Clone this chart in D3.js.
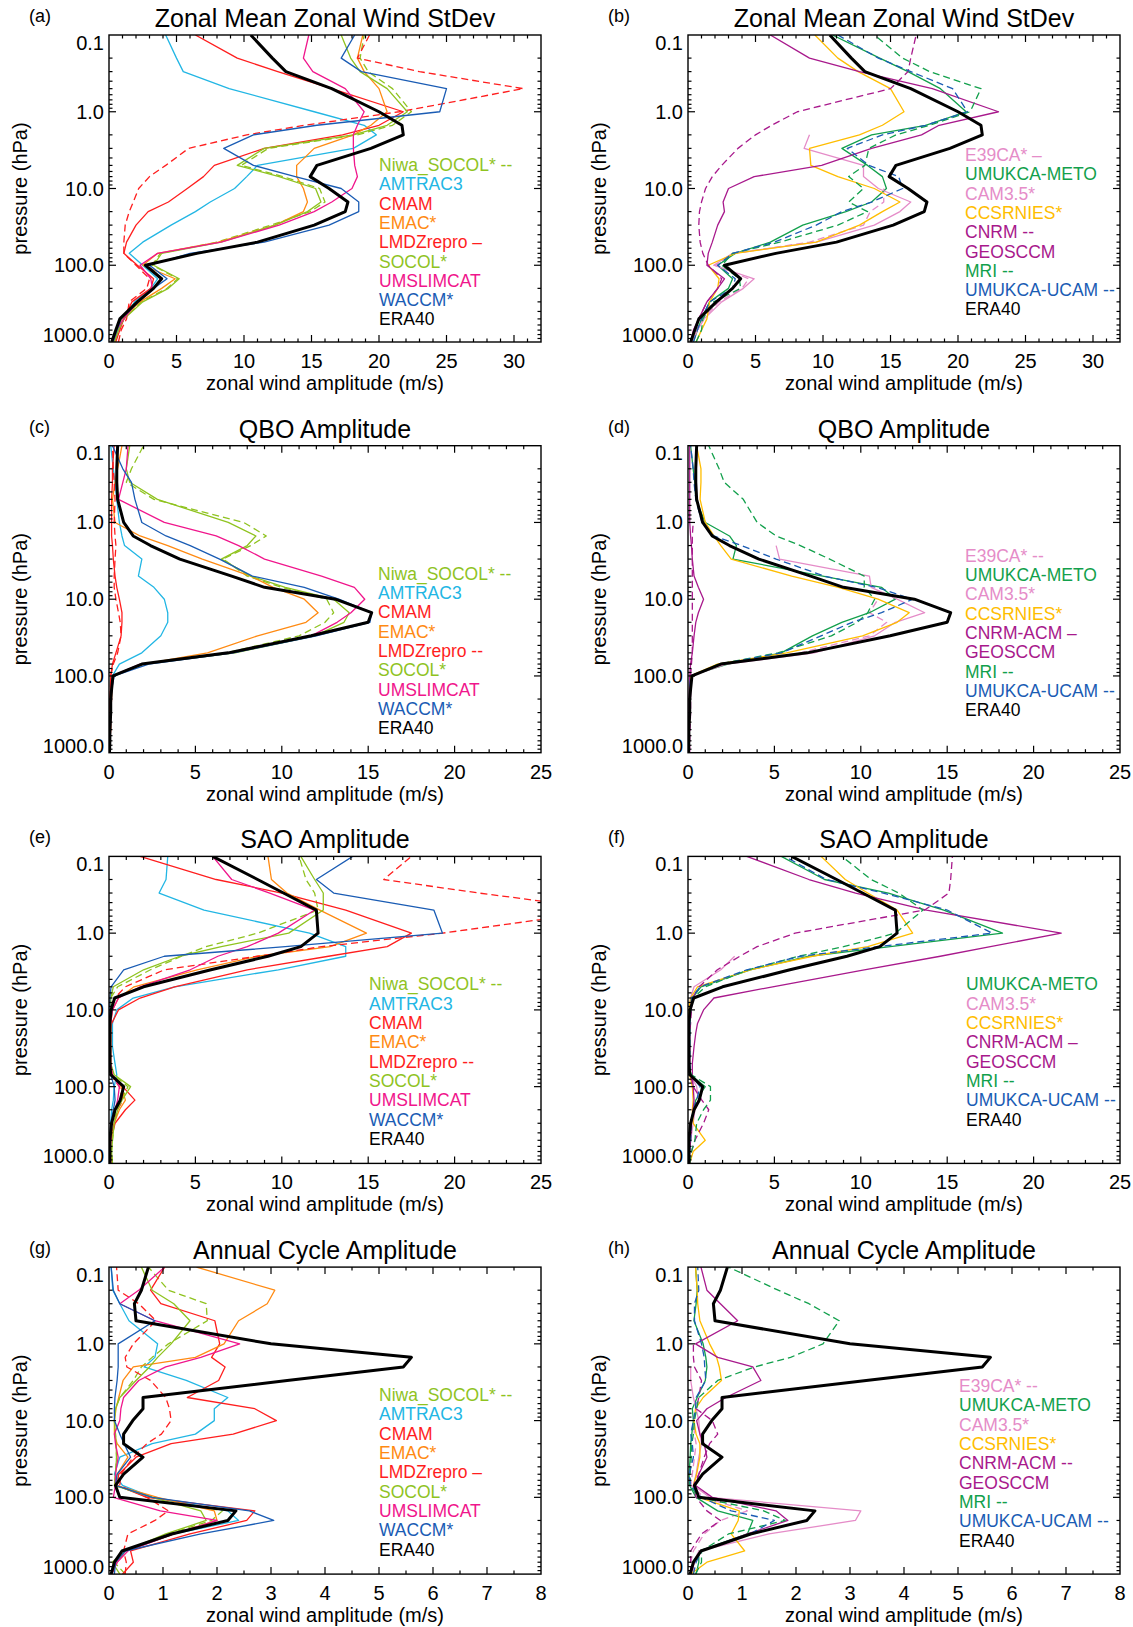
<!DOCTYPE html>
<html>
<head>
<meta charset="utf-8">
<script src="https://cdn.jsdelivr.net/npm/d3@7"></script>
<style>
  body { margin: 0; background: #fff; }
  svg { font-family: "Liberation Sans", Arial, Helvetica, sans-serif; }
</style>
</head>
<body>
<svg id="chart" width="1133" height="1627"></svg>
<script>
// pressure levels (hPa), bottom to top
var levels = [1000, 700, 500, 300, 200, 150, 100, 70, 50, 30, 20, 15, 10, 7, 5, 3, 2, 1.5, 1, 0.5, 0.3, 0.2, 0.1];

// zonal mean zonal wind standard deviation (m/s)
var sd_ERA40     = [0.2,0.5,0.8,2.1,3.3,3.9,2.7,6.5,11,15.2,17.5,17.7,16.3,14.9,15.4,19.4,21.8,21.7,20,16.5,13.1,12.1,10.5];
var sd_Niwa      = [0.4,0.7,1.1,2.4,4.3,5.1,3.2,3.8,8.0,12.0,14.9,16.0,15.6,12.9,9.8,11.8,18.4,21.0,22.4,21.0,19.2,18.6,18.9];
var sd_AMTRAC3   = [0.4,0.7,1.1,1.9,3.1,3.6,2.5,1.5,2.5,4.6,6.4,7.5,9.3,10.2,11,18.1,19.8,18.9,15.2,8.9,5.5,5.0,4.2];
var sd_CMAM      = [0.5,0.8,1.1,1.7,3.1,3.3,2.1,1.1,1.3,2.0,2.9,4.4,5.8,7.0,7.8,11.5,17.3,20,21.8,16.5,12.5,9.5,6.4];
var sd_EMAC      = [0.4,0.6,0.95,2.3,3.9,4.9,2.5,3.6,8.1,12.3,14.4,14.7,14.4,13.9,13.9,15.2,18.1,19.4,20.6,20,18.9,18.4,18.8];
var sd_LMDZ      = [0.7,0.9,1.3,1.5,2.8,3.0,2.0,1.1,1.1,1.2,1.5,1.8,2.2,3.0,4.2,5.9,10.2,14.5,21.5,30.7,23,18.4,19.3];
var sd_SOCOL     = [0.4,0.7,1.1,2.5,4.4,5.2,3.3,3.9,8.3,12.3,14.7,15.7,15.3,12.6,9.5,11.5,18.1,20.6,22.1,20.6,18.6,17.9,17.2];
var sd_UMSLIMCAT = [0.3,0.55,1.1,2.1,3.2,3.1,2.3,3.6,8.3,12.6,15.2,16.5,18,18.4,18.2,18.1,18.1,18.4,18.9,17.5,15.1,14.4,14.8];
var sd_WACCM     = [0.3,0.6,0.9,2.2,3.3,4.3,3.0,6.0,11.5,16.3,18.5,18.5,17.2,13.8,10.7,8.5,10.7,15.4,24.5,25,18.7,17.2,18.2];
var sd_E39CA     = [0.3,0.6,1.1,2.3,4.0,4.5,2.0,3.5,9.0,13.0,13.5,14.5,14.5,null,null,null,null,null,null,null,null,null,null];
var sd_METO      = [0.4,0.7,1.0,1.6,3.0,3.3,2.2,3.5,6.1,8.5,11.7,13.6,14.7,14.4,13.3,11.4,13.6,17.6,20.6,18.7,16.3,14.2,10.7];
var sd_CAM35     = [0.3,0.7,1.2,2.5,4.1,4.9,1.9,3.3,9.5,13.8,15.7,16.5,14.1,13.0,13.0,8.6,9.0,null,null,null,null,null,null];
var sd_CCSRNIES  = [0.6,1.0,1.4,1.6,2.2,2.3,1.5,3.5,9.5,12.7,14.4,15.7,13.8,11.1,9.1,9.0,12.7,14.4,16,15,12.6,11.1,9.4];
var sd_CNRM      = [0.2,0.45,0.8,1.4,2.2,2.5,1.5,1.1,0.9,0.8,0.85,1.0,1.3,1.8,2.5,3.7,5.0,6.2,8.1,15,16.3,16.5,16.9];
var sd_GEOSCCM   = [0.2,0.4,0.8,1.4,2.2,2.7,1.4,1.5,1.8,2.2,2.7,2.6,3.0,4.9,9.9,13.6,17.3,18.6,23,18.1,12.7,9.0,6.1];
var sd_MRI       = [0.6,1.0,1.1,1.9,3.9,3.8,2.5,3.3,6.8,11.1,13.3,11.9,13.0,11.9,13.1,13.4,15.4,17.9,20.9,21.7,17.9,15.9,13.8];
var sd_UCAM      = [0.4,0.7,1.0,1.6,3.3,3.5,2.2,3.3,6.4,9.5,11.4,13.6,15.9,15.6,13.4,11.8,14.4,17.6,20.7,19.6,16.5,14.1,11.1];

// QBO amplitude (m/s)
var qbo_ERA40     = [0.03,0.05,0.05,0.1,0.1,0.15,0.23,1.9,6.9,11.7,15.0,15.2,13.1,9.0,7.1,4.1,2.4,1.4,0.85,0.5,0.45,0.45,0.5];
var qbo_Niwa      = [0.05,0.05,0.1,0.1,0.15,0.15,0.2,1.9,6.8,11.0,12.5,13.0,12.6,10.0,8.0,6.6,8.2,9.1,7.8,2.6,1.0,1.3,2.0];
var qbo_AMTRAC3   = [0.05,0.05,0.08,0.1,0.12,0.15,0.2,0.6,1.9,3.0,3.4,3.4,3.2,2.6,1.7,1.9,0.9,0.75,0.6,0.45,0.35,0.25,0.1];
var qbo_CMAM      = [0.05,0.05,0.05,0.05,0.06,0.08,0.1,0.2,0.4,0.7,0.75,0.75,0.6,0.45,0.35,0.25,0.2,0.15,0.15,0.15,0.2,0.2,0.3];
var qbo_EMAC      = [0.05,0.05,0.08,0.1,0.12,0.15,0.2,2.0,5.7,8.6,11.4,12.1,11.3,9.5,8.2,5.4,3.4,1.8,0.35,0.2,0.35,0.5,0.75];
var qbo_LMDZ      = [0.05,0.05,0.05,0.05,0.06,0.08,0.1,0.25,0.5,0.7,0.65,0.55,0.4,0.3,0.3,0.35,0.4,0.35,0.3,0.35,0.3,0.25,0.2];
var qbo_SOCOL     = [0.05,0.05,0.1,0.1,0.15,0.15,0.2,2.0,7.3,11.9,13.6,13.9,13.0,10.2,8.2,6.5,8.0,8.5,6.9,2.8,1.2,1.0,1.2];
var qbo_UMSLIMCAT = [0.05,0.05,0.1,0.1,0.15,0.15,0.2,1.8,7.1,11.7,13.2,14.0,14.8,14.2,12.3,9.0,7.5,6.2,3.2,0.55,0.8,1.0,1.1];
var qbo_WACCM     = [0.05,0.05,0.08,0.1,0.12,0.15,0.3,2.3,7.2,12.0,15.1,15.2,13.3,11.3,8.3,6.4,4.7,3.3,1.9,1.5,1.3,0.8,0.2];
var qbo_E39CA     = [0.05,0.05,0.08,0.1,0.1,0.12,0.2,2.0,6.5,10.5,11.5,10.5,11.0,null,null,null,null,null,null,null,null,null,null];
var qbo_METO      = [0.03,0.05,0.05,0.08,0.1,0.1,0.1,2.3,5.4,7.2,8.9,10.5,12.0,11.2,7.8,2.6,2.8,2.4,1.0,0.45,0.4,0.3,0.15];
var qbo_CAM35     = [0.05,0.05,0.08,0.1,0.1,0.12,0.2,2.2,7.3,10.8,12.0,13.7,12.1,10.6,10.5,5.3,5.1,null,null,null,null,null,null];
var qbo_CCSRNIES  = [0.05,0.05,0.08,0.1,0.1,0.12,0.15,1.7,5.7,10.1,12.1,12.8,11.0,8.7,6.0,2.5,1.9,1.5,1.0,0.7,0.75,0.75,0.5];
var qbo_CNRM      = [0.1,0.1,0.12,0.15,0.15,0.15,0.15,0.2,0.25,0.25,0.25,0.25,0.25,0.25,0.25,0.25,0.25,0.25,0.3,null,null,null,null];
var qbo_GEOSCCM   = [0.03,0.05,0.05,0.05,0.06,0.08,0.1,0.15,0.25,0.35,0.45,0.6,0.9,0.6,0.35,0.25,0.2,0.15,0.1,0.1,0.1,0.1,0.1];
var qbo_MRI       = [0.05,0.05,0.08,0.1,0.1,0.12,0.2,1.8,5.2,8.3,9.8,10.4,10.8,10.2,10.2,8.2,6.5,5.1,4.0,3.2,2.1,1.8,1.2];
var qbo_UCAM      = [0.03,0.05,0.05,0.08,0.1,0.1,0.15,1.9,5.4,7.7,9.5,11.2,13.0,10.9,7.9,5.1,3.1,1.5,0.8,0.45,0.35,0.3,0.15];

// SAO amplitude (m/s)
var sao_ERA40     = [0.05,0.05,0.05,0.15,0.35,0.65,0.85,0.1,0.05,0.05,0.05,0.05,0.12,0.33,2.0,5.9,9.2,11.1,12.1,12.0,10.1,8.6,6.0];
var sao_Niwa      = [0.2,0.15,0.2,0.3,0.45,0.7,1.1,0.25,0.1,0.1,0.1,0.1,0.1,0.1,0.5,2.4,4.2,5.6,8.6,12.1,11.9,11.4,11.0];
var sao_AMTRAC3   = [0.05,0.05,0.1,0.1,0.15,0.25,0.3,0.45,0.35,0.2,0.2,0.2,0.45,1.4,3.8,9.8,13.7,13.7,11.6,5.5,2.9,3.3,3.4];
var sao_CMAM      = [0.1,0.1,0.1,0.35,0.95,1.5,0.8,0.2,0.05,0.05,0.05,0.15,0.55,1.8,3.8,8.0,12.7,16.1,17.5,13.7,10.0,6.2,1.8];
var sao_EMAC      = [0.05,0.05,0.1,0.3,0.6,0.95,0.7,0.2,0.1,0.1,0.1,0.1,0.2,0.55,1.45,5.1,8.6,12.8,14.9,12.2,10.3,9.4,9.2];
var sao_LMDZ      = [0.1,0.1,0.1,0.3,0.5,0.8,0.6,0.1,0.05,0.05,0.05,0.05,0.1,0.33,0.95,3.2,8.6,12.3,19.3,29,21.4,15.9,17.5];
var sao_SOCOL     = [0.2,0.15,0.2,0.3,0.5,0.75,1.25,0.3,0.1,0.1,0.1,0.1,0.1,0.1,0.25,2.0,4.1,6.5,10.4,12.4,12.4,11.9,11.1];
var sao_UMSLIMCAT = [0.05,0.05,0.1,0.15,0.35,0.5,0.6,0.2,0.1,0.1,0.1,0.1,0.2,0.55,1.8,4.7,6.3,8.0,9.8,11.9,9.3,7.1,6.0];
var sao_WACCM     = [0.05,0.05,0.05,0.1,0.25,0.35,0.3,0.1,0.05,0.05,0.05,0.05,0.05,0.05,0.12,0.85,3.2,10.2,19.3,18.8,13.0,12.0,14.1];
var sao_METO      = [0.05,0.1,0.15,0.2,0.3,0.45,1.0,0.15,0.1,0.1,0.1,0.1,0.15,0.25,0.75,3.6,7.0,11.7,18.2,14.8,11.6,7.9,5.4];
var sao_CAM35     = [0.05,0.1,0.15,0.3,0.4,0.6,0.5,0.15,0.1,0.1,0.1,0.1,0.1,0.15,0.35,1.9,2.7,null,null,null,null,null,null];
var sao_CCSRNIES  = [0.1,0.3,1.0,0.3,0.25,0.3,0.25,0.1,0.05,0.05,0.05,0.05,0.05,0.15,0.55,3.6,7.2,10.4,13.0,12.1,10.4,9.1,7.7];
var sao_CNRM      = [0.1,0.2,0.4,0.9,1.2,0.8,0.3,0.15,0.1,0.1,0.1,0.15,0.2,0.25,0.65,1.7,3.0,4.0,6.2,13.7,15.1,15.2,15.3];
var sao_GEOSCCM   = [0.05,0.1,0.15,0.2,0.3,0.35,0.3,0.25,0.25,0.35,0.45,0.55,0.9,1.5,4.9,10.2,14.6,17.5,21.6,13.8,9.7,7.0,3.4];
var sao_MRI       = [0.1,0.2,0.4,0.5,0.9,1.3,1.3,0.2,0.1,0.1,0.1,0.1,0.15,0.3,1.0,3.5,6.4,9.0,12.0,13.6,12.2,10.6,8.9];
var sao_UCAM      = [0.05,0.1,0.15,0.2,0.3,0.5,0.7,0.15,0.1,0.1,0.1,0.1,0.15,0.2,0.7,3.4,6.5,11.0,17.6,15.0,11.3,8.0,5.6];

// annual cycle amplitude (m/s)
var an_ERA40     = [0.04,0.1,0.24,1.16,2.2,2.35,0.2,0.12,0.27,0.63,0.27,0.27,0.44,0.63,0.63,3.3,5.45,5.6,3.0,0.5,0.47,0.6,0.73];
var an_Niwa      = [0.3,0.1,0.3,1.1,1.9,2.1,0.8,0.1,0.12,0.14,0.13,0.12,0.1,0.12,0.2,0.45,0.6,0.8,1.1,1.82,1.8,1.1,0.73];
var an_AMTRAC3   = [0.05,0.15,0.3,1.2,2.4,2.2,0.8,0.25,0.1,0.2,0.8,1.6,1.95,1.95,2.2,1.43,0.65,0.85,0.9,0.37,0.2,0.07,0.04];
var an_CMAM      = [0.25,0.45,0.4,1.5,2.55,2.7,0.7,0.15,0.18,0.5,1.15,2.3,3.1,2.7,1.45,2.03,2.15,1.9,2.05,1.96,0.96,0.77,1.03];
var an_EMAC      = [0.05,0.15,0.3,1.2,2.0,1.95,0.9,0.12,0.15,0.35,0.15,0.1,0.1,0.13,0.18,0.26,0.45,1.6,2.13,2.4,2.93,3.07,1.62];
var an_LMDZ      = [0.3,0.32,0.27,0.35,0.85,1.1,0.7,0.2,0.22,0.45,0.7,0.97,1.15,1.12,1.05,0.77,0.33,0.3,0.45,0.87,0.55,0.17,0.14];
var an_SOCOL     = [0.2,0.06,0.3,1.05,1.8,1.7,0.8,0.1,0.12,0.14,0.13,0.12,0.1,0.12,0.2,0.5,0.75,0.9,1.15,1.5,1.2,0.8,0.6];
var an_UMSLIMCAT = [0.05,0.15,0.35,1.2,2.0,0.95,0.08,0.12,0.12,0.17,0.12,0.1,0.2,0.22,0.27,0.55,1.05,1.7,2.42,0.85,0.2,0.55,1.03];
var an_WACCM     = [0.1,0.12,0.3,1.7,3.05,2.6,0.8,0.12,0.15,0.4,0.28,0.2,0.1,0.1,0.11,0.15,0.17,0.17,0.17,0.85,0.2,0.08,0.04];
var an_E39CA     = [0.05,0.05,0.1,0.3,0.6,1.1,0.3,0.05,0.08,0.12,0.15,0.12,0.1,null,null,null,null,null,null,null,null,null,null];
var an_METO      = [0.15,0.2,0.2,1.1,1.2,0.55,0.15,0.03,0.02,0.04,0.05,0.07,0.1,0.08,0.17,0.32,0.35,0.33,0.28,0.11,0.15,0.17,0.14];
var an_CAM35     = [0.1,0.1,0.2,1.5,3.1,3.2,0.4,0.1,0.15,0.2,0.25,0.22,0.2,0.15,0.1,0.05,0.05,null,null,null,null,null,null];
var an_CCSRNIES  = [0.05,0.35,1.05,0.8,0.93,0.95,0.2,0.1,0.16,0.22,0.22,0.15,0.11,0.14,0.28,0.62,0.58,0.53,0.4,0.22,0.18,0.17,0.14];
var an_CNRM      = [0.05,0.05,0.05,0.25,0.6,0.35,0.15,0.1,0.2,0.3,0.4,0.55,0.45,0.15,0.2,0.25,0.12,0.1,0.1,null,null,null,null];
var an_GEOSCCM   = [0.05,0.12,0.25,1.1,1.85,1.63,0.45,0.14,0.2,0.35,0.3,0.22,0.16,0.35,0.7,1.35,1.2,0.55,0.14,0.92,0.6,0.35,0.24];
var an_MRI       = [0.14,0.25,0.25,0.75,1.8,1.4,0.2,0.04,0.04,0.06,0.07,0.1,0.12,0.16,0.2,0.55,1.23,1.9,2.5,2.8,2.24,1.67,0.75];
var an_UCAM      = [0.1,0.15,0.25,1.15,1.6,0.8,0.25,0.05,0.02,0.1,0.08,0.05,0.1,0.14,0.15,0.33,0.31,0.3,0.25,0.12,0.12,0.2,0.18];

// legend keys and texts
var leftKeys  = ["Niwa", "AMTRAC3", "CMAM", "EMAC", "LMDZ", "SOCOL", "UMSLIMCAT", "WACCM", "ERA40"];
var rightKeys = ["E39CA", "METO", "CAM35", "CCSRNIES", "CNRM", "GEOSCCM", "MRI", "UCAM", "ERA40"];
var labelsA = ["Niwa_SOCOL* --", "AMTRAC3", "CMAM", "EMAC*", "LMDZrepro \u2013", "SOCOL*", "UMSLIMCAT", "WACCM*", "ERA40"];
var labelsC = ["Niwa_SOCOL* --", "AMTRAC3", "CMAM", "EMAC*", "LMDZrepro --", "SOCOL*", "UMSLIMCAT", "WACCM*", "ERA40"];
var labelsB = ["E39CA* \u2013", "UMUKCA-METO", "CAM3.5*", "CCSRNIES*", "CNRM --", "GEOSCCM", "MRI --", "UMUKCA-UCAM --", "ERA40"];
var labelsD = ["E39CA* --", "UMUKCA-METO", "CAM3.5*", "CCSRNIES*", "CNRM-ACM \u2013", "GEOSCCM", "MRI --", "UMUKCA-UCAM --", "ERA40"];
var labelsF = ["UMUKCA-METO", "CAM3.5*", "CCSRNIES*", "CNRM-ACM \u2013", "GEOSCCM", "MRI --", "UMUKCA-UCAM --", "ERA40"];
var labelsH = ["E39CA* --", "UMUKCA-METO", "CAM3.5*", "CCSRNIES*", "CNRM-ACM --", "GEOSCCM", "MRI --", "UMUKCA-UCAM --", "ERA40"];

var styles = {
  Niwa:      { color: "#8fc31f", dash: "7,4" },
  AMTRAC3:   { color: "#22b6e4" },
  CMAM:      { color: "#ff1e1e" },
  EMAC:      { color: "#ff8a12" },
  LMDZ:      { color: "#ff1e1e", dash: "7,4" },
  SOCOL:     { color: "#8fc31f" },
  UMSLIMCAT: { color: "#f0168c" },
  WACCM:     { color: "#1a5cb4" },
  E39CA:     { color: "#e58cc8", dash: "7,4" },
  METO:      { color: "#12a04c" },
  CAM35:     { color: "#e58cc8" },
  CCSRNIES:  { color: "#ffbd00" },
  CNRM:      { color: "#a8198c", dash: "7,4" },
  GEOSCCM:   { color: "#a8198c" },
  MRI:       { color: "#12a04c", dash: "7,4" },
  UCAM:      { color: "#1a5cb4", dash: "7,4" },
  ERA40:     { color: "#000000", width: 3 }
};

var stdev = { ERA40: sd_ERA40, Niwa: sd_Niwa, AMTRAC3: sd_AMTRAC3, CMAM: sd_CMAM, EMAC: sd_EMAC, LMDZ: sd_LMDZ, SOCOL: sd_SOCOL,
  UMSLIMCAT: sd_UMSLIMCAT, WACCM: sd_WACCM, E39CA: sd_E39CA, METO: sd_METO, CAM35: sd_CAM35, CCSRNIES: sd_CCSRNIES,
  CNRM: sd_CNRM, GEOSCCM: sd_GEOSCCM, MRI: sd_MRI, UCAM: sd_UCAM };
var qbo = { ERA40: qbo_ERA40, Niwa: qbo_Niwa, AMTRAC3: qbo_AMTRAC3, CMAM: qbo_CMAM, EMAC: qbo_EMAC, LMDZ: qbo_LMDZ, SOCOL: qbo_SOCOL,
  UMSLIMCAT: qbo_UMSLIMCAT, WACCM: qbo_WACCM, E39CA: qbo_E39CA, METO: qbo_METO, CAM35: qbo_CAM35, CCSRNIES: qbo_CCSRNIES,
  CNRM: qbo_CNRM, GEOSCCM: qbo_GEOSCCM, MRI: qbo_MRI, UCAM: qbo_UCAM };
var sao = { ERA40: sao_ERA40, Niwa: sao_Niwa, AMTRAC3: sao_AMTRAC3, CMAM: sao_CMAM, EMAC: sao_EMAC, LMDZ: sao_LMDZ, SOCOL: sao_SOCOL,
  UMSLIMCAT: sao_UMSLIMCAT, WACCM: sao_WACCM, METO: sao_METO, CAM35: sao_CAM35, CCSRNIES: sao_CCSRNIES,
  CNRM: sao_CNRM, GEOSCCM: sao_GEOSCCM, MRI: sao_MRI, UCAM: sao_UCAM };
var annual = { ERA40: an_ERA40, Niwa: an_Niwa, AMTRAC3: an_AMTRAC3, CMAM: an_CMAM, EMAC: an_EMAC, LMDZ: an_LMDZ, SOCOL: an_SOCOL,
  UMSLIMCAT: an_UMSLIMCAT, WACCM: an_WACCM, E39CA: an_E39CA, METO: an_METO, CAM35: an_CAM35, CCSRNIES: an_CCSRNIES,
  CNRM: an_CNRM, GEOSCCM: an_GEOSCCM, MRI: an_MRI, UCAM: an_UCAM };

var panels = [
  { tag: "(a)", title: "Zonal Mean Zonal Wind StDev", data: stdev, xmax: 32, step: 5, minor: 1, col: 0, row: 0, keys: leftKeys, labels: labelsA, legX: 379, legY: 136 },
  { tag: "(b)", title: "Zonal Mean Zonal Wind StDev", data: stdev, xmax: 32, step: 5, minor: 1, col: 1, row: 0, keys: rightKeys, labels: labelsB, legX: 965, legY: 126 },
  { tag: "(c)", title: "QBO Amplitude", data: qbo, xmax: 25, step: 5, minor: 1, col: 0, row: 1, keys: leftKeys, labels: labelsC, legX: 378, legY: 134 },
  { tag: "(d)", title: "QBO Amplitude", data: qbo, xmax: 25, step: 5, minor: 1, col: 1, row: 1, keys: rightKeys, labels: labelsD, legX: 965, legY: 116 },
  { tag: "(e)", title: "SAO Amplitude", data: sao, xmax: 25, step: 5, minor: 1, col: 0, row: 2, keys: leftKeys, labels: labelsC, legX: 369, legY: 134 },
  { tag: "(f)", title: "SAO Amplitude", data: sao, xmax: 25, step: 5, minor: 1, col: 1, row: 2, keys: rightKeys.slice(1), labels: labelsF, legX: 966, legY: 134 },
  { tag: "(g)", title: "Annual Cycle Amplitude", data: annual, xmax: 8, step: 1, minor: 0.5, col: 0, row: 3, keys: leftKeys, labels: labelsA, legX: 379, legY: 134 },
  { tag: "(h)", title: "Annual Cycle Amplitude", data: annual, xmax: 8, step: 1, minor: 0.5, col: 1, row: 3, keys: rightKeys, labels: labelsH, legX: 959, legY: 125 }
];

var svg = d3.select("#chart");
var plotW = 432, plotH = 307;
var colLeft = [109, 688];
var rowTop = [35, 445.7, 856.4, 1267.1];

var yMajor = [0.1, 1, 10, 100, 1000];
var yMinor = [];
[0.1, 1, 10, 100].forEach(function (d) {
  for (var k = 2; k <= 9; k++) yMinor.push(d * k);
});

panels.forEach(function (p, pi) {
  var left = colLeft[p.col], top = rowTop[p.row];
  var right = left + plotW, bottom = top + plotH;

  var x = d3.scaleLinear().domain([0, p.xmax]).range([left, right]);
  var y = d3.scaleLog().domain([0.1, 1000]).range([top, bottom]);

  var g = svg.append("g");

  g.append("clipPath").attr("id", "clip" + pi)
    .append("rect").attr("x", left).attr("y", top).attr("width", plotW).attr("height", plotH);

  // lines: models first, ERA40 last
  var lineGen = d3.line()
    .defined(function (d) { return d[1] != null; })
    .x(function (d) { return x(d[1]); })
    .y(function (d) { return y(d[0]); });

  var order = p.keys.filter(function (k) { return k !== "ERA40"; }).concat(["ERA40"]);
  var lines = g.append("g").attr("clip-path", "url(#clip" + pi + ")");
  order.forEach(function (k) {
    var vals = p.data[k];
    var pts = levels.map(function (lv, i) { return [lv, vals[i]]; });
    var st = styles[k];
    lines.append("path")
      .datum(pts)
      .attr("d", lineGen)
      .attr("fill", "none")
      .attr("stroke", st.color)
      .attr("stroke-width", st.width || 1.3)
      .attr("stroke-dasharray", st.dash || null)
      .attr("stroke-linejoin", "round");
  });

  // frame
  g.append("rect").attr("x", left).attr("y", top).attr("width", plotW).attr("height", plotH)
    .attr("fill", "none").attr("stroke", "#000").attr("stroke-width", 1.4);

  // x ticks (inward, bottom and top)
  var xMaj = d3.range(0, p.xmax + 1e-9, p.step);
  var xMin = d3.range(0, p.xmax + 1e-9, p.minor).filter(function (v) {
    return Math.abs(v / p.step - Math.round(v / p.step)) > 1e-6;
  });
  var tk = g.append("g").attr("stroke", "#000").attr("stroke-width", 1.2);
  function xTicks(vals, len) {
    tk.selectAll(null).data(vals).enter().append("line")
      .attr("x1", function (d) { return x(d); }).attr("x2", function (d) { return x(d); })
      .attr("y1", bottom).attr("y2", bottom - len);
    tk.selectAll(null).data(vals).enter().append("line")
      .attr("x1", function (d) { return x(d); }).attr("x2", function (d) { return x(d); })
      .attr("y1", top).attr("y2", top + len);
  }
  function yTicks(vals, len) {
    tk.selectAll(null).data(vals).enter().append("line")
      .attr("y1", function (d) { return y(d); }).attr("y2", function (d) { return y(d); })
      .attr("x1", left).attr("x2", left + len);
    tk.selectAll(null).data(vals).enter().append("line")
      .attr("y1", function (d) { return y(d); }).attr("y2", function (d) { return y(d); })
      .attr("x1", right).attr("x2", right - len);
  }
  xTicks(xMaj.filter(function (v) { return v > 0 && v < p.xmax; }), 7);
  xTicks(xMin.filter(function (v) { return v < p.xmax; }), 3.5);
  yTicks([1, 10, 100], 7);
  yTicks(yMinor, 3.5);

  // x tick labels
  g.selectAll(null).data(xMaj).enter().append("text")
    .attr("x", function (d) { return x(d); })
    .attr("y", bottom + 26)
    .attr("text-anchor", "middle")
    .attr("font-size", 20)
    .text(function (d) { return d; });

  // y tick labels
  g.selectAll(null).data(yMajor).enter().append("text")
    .attr("x", left - 5)
    .attr("y", function (d) {
      var b = y(d) + 7;
      return Math.max(top + 14.5, Math.min(bottom, b));
    })
    .attr("text-anchor", "end")
    .attr("font-size", 20)
    .text(function (d) { return d3.format(".1f")(d); });

  // axis titles
  g.append("text")
    .attr("x", (left + right) / 2).attr("y", bottom + 48)
    .attr("text-anchor", "middle").attr("font-size", 20)
    .text("zonal wind amplitude (m/s)");
  g.append("text")
    .attr("transform", "translate(" + (left - 82) + "," + ((top + bottom) / 2) + ") rotate(-90)")
    .attr("text-anchor", "middle").attr("font-size", 20)
    .text("pressure (hPa)");

  // panel title and tag
  g.append("text")
    .attr("x", (left + right) / 2).attr("y", top - 8)
    .attr("text-anchor", "middle").attr("font-size", 25)
    .text(p.title);
  g.append("text")
    .attr("x", left - 80).attr("y", top - 13)
    .attr("font-size", 18)
    .text(p.tag);

  // legend
  g.selectAll(null).data(p.labels).enter().append("text")
    .attr("x", p.legX)
    .attr("y", function (d, i) { return top + p.legY + i * 19.3; })
    .attr("font-size", 17.5)
    .attr("fill", function (d, i) { return styles[p.keys[i]].color; })
    .text(function (d) { return d; });
});
</script>
</body>
</html>
